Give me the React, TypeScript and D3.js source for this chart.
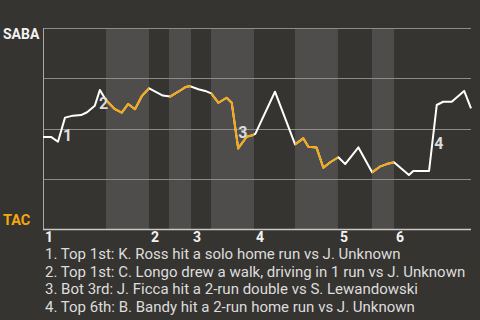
import React from "react";
import * as d3 from "d3";

// Game progress (0-100) and SABA win probability (%)
const progress = [0, 1.87, 3.5, 5.14, 7.0, 8.88, 10.3, 12.1, 13.3, 14.7, 16.8, 18.4, 19.9, 21.5, 23.1, 24.8, 28.0, 29.7, 31.6, 33.2, 34.3, 36.3, 37.9, 39.3, 41.0, 42.9, 44.1, 45.6, 47.6, 49.1, 49.6, 54.2, 58.9, 60.8, 62.0, 63.9, 65.5, 67.1, 69.0, 70.6, 73.7, 76.9, 78.7, 80.3, 82.0, 85.5, 86.5, 90.2, 92.0, 93.5, 95.5, 98.4, 100];
const sabaWinProb = [45.8, 45.8, 43.4, 55.4, 56.4, 56.7, 58.1, 61.3, 69.2, 64.2, 59.6, 57.9, 62.2, 59.6, 66.2, 70.0, 66.4, 65.9, 68.3, 70.5, 71.1, 69.5, 68.7, 67.5, 62.8, 65.3, 62.8, 40.1, 45.9, 46.8, 47.3, 68.3, 42.1, 45.1, 40.9, 40.6, 30.5, 33.2, 35.7, 32.3, 40.6, 28.2, 31.0, 32.3, 33.2, 26.9, 28.9, 28.9, 61.7, 63.3, 63.3, 68.7, 60.0];

// Innings: start of each inning and start of its bottom half (game progress)
const inningLabels = ["1", "2", "3", "4", "5", "6"];
const inningStart = [0, 24.77, 34.58, 49.3, 68.9, 82.0];
const bottomStart = [14.72, 29.44, 39.25, 58.88, 76.87];
const bottomEnd = [24.77, 34.58, 49.3, 68.9, 82.0];

const gridValues = [25, 50, 75, 100];

// Event annotations: label position (progress, win prob)
const eventLabels = ["1", "2", "3", "4"];
const eventX = [4.7, 13.1, 45.6, 91.4];
const eventY = [43.8, 59.7, 45.3, 39.8];
const eventNotes = [
  "1. Top 1st: K. Ross hit a solo home run vs J. Unknown",
  "2. Top 1st: C. Longo drew a walk, driving in 1 run vs J. Unknown",
  "3. Bot 3rd: J. Ficca hit a 2-run double vs S. Lewandowski",
  "4. Top 6th: B. Bandy hit a 2-run home run vs J. Unknown",
];

const W = 480;
const H = 320;
const BG = "#363431";
const BAND = "#4e4d4b";
const ORANGE = "#f5a80f";
const FONT = "Roboto, 'Noto Sans', sans-serif";

export default function App() {
  const x = d3.scaleLinear().domain([0, 100]).range([43, 471]);
  const y = d3.scaleLinear().domain([0, 100]).range([229, 28]);
  const pts: [number, number][] = progress.map((p, i) => [p, sabaWinProb[i]]);
  const line = d3
    .line<[number, number]>()
    .x((d) => x(d[0]))
    .y((d) => y(d[1]));
  const path = line(pts) || "";

  return (
    <svg
      width={W}
      height={H}
      style={{ position: "fixed", left: 0, top: 0, display: "block" }}
      fontFamily={FONT}
    >
      <rect x={0} y={0} width={W} height={H} fill={BG} />
      <defs>
        <clipPath id="bottoms">
          {bottomStart.map((s, i) => (
            <rect key={i} x={x(s)} y={0} width={x(bottomEnd[i]) - x(s)} height={H} />
          ))}
        </clipPath>
      </defs>
      {bottomStart.map((s, i) => (
        <rect
          key={"b" + i}
          x={x(s)}
          y={y(100)}
          width={x(bottomEnd[i]) - x(s)}
          height={y(0) - y(100)}
          fill={BAND}
        />
      ))}
      {gridValues.map((g) => (
        <line
          key={g}
          x1={x(0)}
          x2={x(100)}
          y1={Math.round(y(g)) + 0.5}
          y2={Math.round(y(g)) + 0.5}
          stroke="#8c8b88"
          strokeWidth={1}
        />
      ))}
      <line x1={x(0) + 0.5} x2={x(0) + 0.5} y1={y(100)} y2={y(0) + 1} stroke="#a9a8a5" strokeWidth={1} />
      <line x1={x(0)} x2={x(100)} y1={Math.round(y(0)) + 0.5} y2={Math.round(y(0)) + 0.5} stroke="#c9c8c5" strokeWidth={1.5} />
      <path d={path} fill="none" stroke="#ffffff" strokeWidth={2} strokeLinejoin="round" />
      <path d={path} fill="none" stroke={ORANGE} strokeWidth={2} strokeLinejoin="round" clipPath="url(#bottoms)" />
      {eventLabels.map((l, i) => (
        <text key={l} x={x(eventX[i])} y={y(eventY[i])} fill="#dcdcdc" fontSize={16} fontWeight="bold">
          {l}
        </text>
      ))}
      <text x={3} y={39} fill="#f2f2f2" fontSize={14} fontWeight="bold">SABA</text>
      <text x={3} y={225} fill={ORANGE} fontSize={14.5} fontWeight="bold">TAC</text>
      {inningLabels.map((l, i) => (
        <text key={l} x={x(inningStart[i]) + 2} y={242} fill="#f2f2f2" fontSize={14} fontWeight="bold">
          {l}
        </text>
      ))}
      {eventNotes.map((n, i) => (
        <text key={i} x={45} y={259 + i * 17.7} fill="#dddddd" fontSize={15}>
          {n}
        </text>
      ))}
    </svg>
  );
}
